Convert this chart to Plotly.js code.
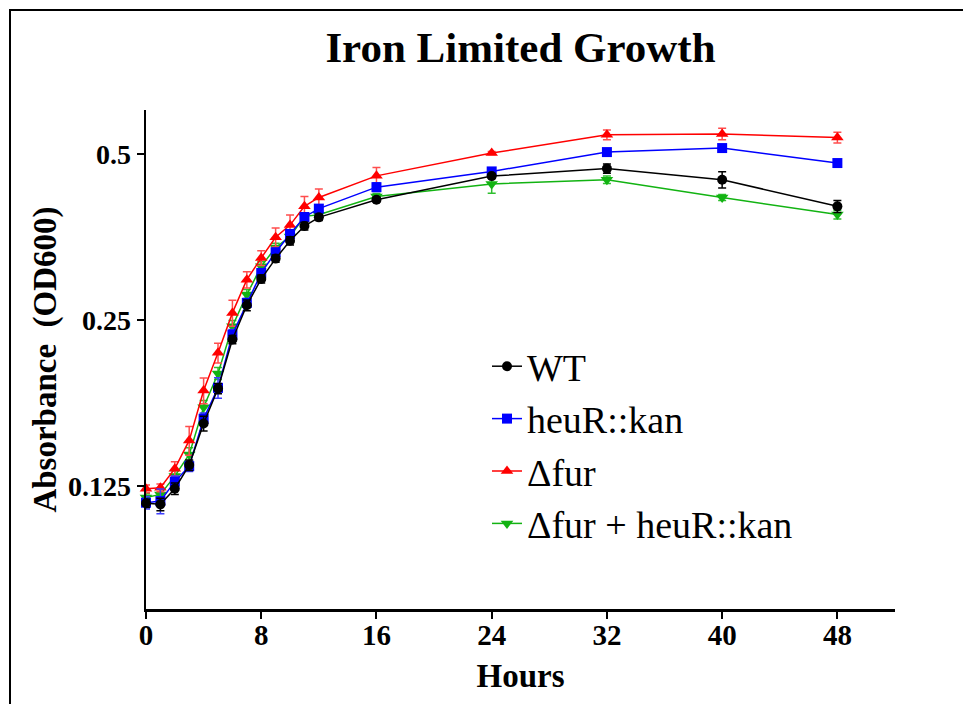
<!DOCTYPE html>
<html>
<head>
<meta charset="utf-8">
<script src="https://cdn.plot.ly/plotly-3.0.1.min.js"></script>
<style>
  html, body { margin: 0; padding: 0; background: #fff; }
  #wrap { position: relative; width: 963px; height: 704px; }
  #chart { position: absolute; left: 0; top: 0; width: 963px; height: 704px; }
  #frame { position: absolute; left: 9px; top: 9px; right: 0; bottom: 0;
           border-top: 2px solid #000; border-left: 2px solid #000; pointer-events: none; }
</style>
</head>
<body>
<div id="wrap"><div id="chart"></div><div id="frame"></div></div>
<script>
// Time points (hours)
const hours = [0, 1, 2, 3, 4, 5, 6, 7, 8, 9, 10, 11, 12, 16, 24, 32, 40, 48];

// Mean OD600 per strain
const wt      = [0.1165, 0.1160, 0.1238, 0.1366, 0.1625, 0.1880, 0.2305, 0.2659, 0.2968, 0.3230, 0.3479, 0.3699, 0.3836, 0.4128, 0.4555, 0.4700, 0.4487, 0.4016];
const heuR    = [0.1168, 0.1176, 0.1275, 0.1360, 0.1657, 0.1885, 0.2353, 0.2686, 0.3043, 0.3317, 0.3580, 0.3842, 0.3978, 0.4350, 0.4645, 0.5035, 0.5120, 0.4810];
const fur     = [0.1238, 0.1243, 0.1346, 0.1514, 0.1864, 0.2181, 0.2576, 0.2959, 0.3239, 0.3530, 0.3714, 0.4016, 0.4168, 0.4560, 0.5015, 0.5410, 0.5430, 0.5350];
const furHeuR = [0.1193, 0.1209, 0.1305, 0.1428, 0.1739, 0.2001, 0.2436, 0.2780, 0.3128, 0.3383, 0.3540, 0.3852, 0.3879, 0.4185, 0.4410, 0.4487, 0.4167, 0.3880];

// Error (SD) per strain
const wtErr      = [0.002, 0.003, 0.003, 0.003, 0.005, 0.004, 0.004, 0.006, 0.005, 0.005, 0.006, 0.006, 0.005, 0.004, 0.004, 0.009, 0.015, 0.010];
const heuRErr    = [0.003, 0.006, 0.003, 0.003, 0.004, 0.008, 0.005, 0.005, 0.005, 0.005, 0.006, 0.006, 0.006, 0.008, 0.003, 0.003, 0.004, 0.004];
const furErr     = [0.002, 0.002, 0.004, 0.009, 0.010, 0.009, 0.014, 0.010, 0.010, 0.014, 0.016, 0.017, 0.015, 0.016, 0.003, 0.011, 0.013, 0.012];
const furHeuRErr = [0.002, 0.003, 0.003, 0.004, 0.005, 0.005, 0.006, 0.006, 0.006, 0.006, 0.006, 0.006, 0.005, 0.005, 0.017, 0.007, 0.005, 0.007];

const seriesNames = ['WT', 'heuR::kan', '\u0394fur', '\u0394fur + heuR::kan'];
const yTickVals = [0.125, 0.25, 0.5];
const yTickText = ['0.125', '0.25', '0.5'];
const xTickVals = [0, 8, 16, 24, 32, 40, 48];

const serif = '"Liberation Serif", "Times New Roman", Times, serif';

function mk(name, y, err, color, errColor, symbol, size) {
  return {
    x: hours, y: y, name: name, type: 'scatter', mode: 'lines+markers',
    cliponaxis: false,
    line: { color: color, width: 1.5 },
    marker: { color: color, symbol: symbol, size: size },
    error_y: { type: 'data', array: err, visible: true, color: errColor, thickness: 1.5, width: 4 }
  };
}

const traces = [
  mk(seriesNames[3], furHeuR, furHeuRErr, '#12b312', '#2fbf2f', 'triangle-down', 11),
  mk(seriesNames[2], fur, furErr, '#ff0000', '#ff4d4d', 'triangle-up', 11),
  mk(seriesNames[1], heuR, heuRErr, '#0000ff', '#3d3dff', 'square', 10),
  mk(seriesNames[0], wt, wtErr, '#000000', '#000000', 'circle', 10)
];

const layout = {
  width: 963, height: 704,
  paper_bgcolor: 'rgba(0,0,0,0)', plot_bgcolor: 'rgba(0,0,0,0)',
  margin: { l: 146, r: 68, t: 110, b: 95, pad: 0 },
  font: { family: serif, color: '#000' },
  title: {
    text: 'Iron Limited Growth',
    font: { family: serif, size: 43, weight: 'bold', color: '#000' },
    x: 0.5, xref: 'paper', xanchor: 'center',
    y: 1 - 47 / 704, yref: 'container', yanchor: 'middle'
  },
  xaxis: {
    range: [0, 52], tickmode: 'array', tickvals: xTickVals,
    showline: true, linecolor: '#000', linewidth: 2.5,
    ticks: 'outside', ticklen: 7, tickwidth: 2, tickcolor: '#000',
    showgrid: false, zeroline: false,
    ticklabelstandoff: -8,
    tickfont: { family: serif, size: 29, weight: 'bold' },
    title: { text: 'Hours', font: { family: serif, size: 33, weight: 'bold' }, standoff: 14 }
  },
  yaxis: {
    type: 'log', range: [Math.log10(0.075), Math.log10(0.6)],
    tickmode: 'array', tickvals: yTickVals, ticktext: yTickText,
    showline: true, linecolor: '#000', linewidth: 2.5,
    ticks: 'outside', ticklen: 7, tickwidth: 2, tickcolor: '#000',
    showgrid: false, zeroline: false,
    tickfont: { family: serif, size: 28, weight: 'bold' },
    title: { text: 'Absorbance&nbsp;&nbsp;(OD600)', font: { family: serif, size: 33, weight: 'bold' }, standoff: 2 }
  },
  showlegend: true,
  legend: {
    x: (487 - 146) / 749, xanchor: 'left',
    y: (609 - 335) / 499, yanchor: 'top',
    traceorder: 'reversed',
    bgcolor: 'rgba(0,0,0,0)', borderwidth: 0,
    font: { family: serif, size: 38, color: '#000' },
    itemwidth: 30
  }
};

Plotly.newPlot('chart', traces, layout, { displayModeBar: false, staticPlot: true });
</script>
</body>
</html>
